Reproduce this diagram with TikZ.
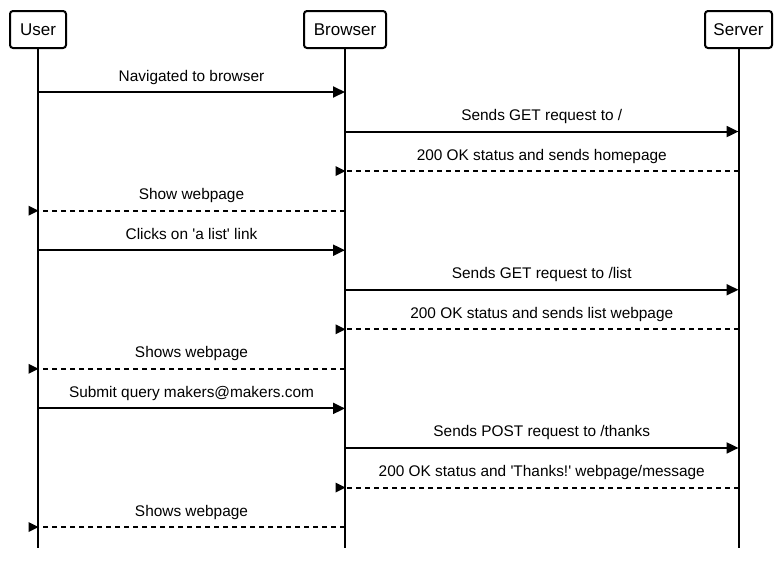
\documentclass[tikz,border=0pt]{standalone}
\usepackage{fontspec}
\setmainfont{Liberation Sans}
\usetikzlibrary{arrows.meta,shapes.geometric}

\tikzset{
    actor/.style={draw, rounded corners=3pt, line width=2pt, minimum height=37pt, inner sep=0pt, font=\fontsize{17}{20}\selectfont},
    lifeline/.style={line width=2pt},
    call/.style={line width=2pt, -{Triangle[length=12pt, width=11pt]}},
    reply/.style={line width=2pt, dash pattern=on 5pt off 4pt},
    replytip/.style={isosceles triangle, isosceles triangle stretches, fill, inner sep=0pt, outer sep=0pt, minimum width=10pt, minimum height=10pt, anchor=apex, pos=1, xshift=0.5pt},
    msg/.style={midway, above=6.5pt, inner sep=0pt, text depth=3.5pt, font=\fontsize{15.4}{18}\selectfont}
}

\begin{document}
\begin{tikzpicture}[x=1pt, y=-1pt]
    \useasboundingbox (0,0) rectangle (784,560);

    % participants
    \node[actor, minimum width=56pt] (user) at (38,29.5) {User};
    \node[actor, minimum width=82pt] (browser) at (345,29.5) {Browser};
    \node[actor, minimum width=67pt] (server) at (738.5,29.5) {Server};

    \coordinate (user-end) at (38,548);
    \coordinate (browser-end) at (345,548);
    \coordinate (server-end) at (738.5,548);

    \draw[lifeline] (user) -- (user-end);
    \draw[lifeline] (browser) -- (browser-end);
    \draw[lifeline] (server) -- (server-end);

    % message rows
    \foreach \i in {1,...,12} {
        \pgfmathsetmacro\rowy{92+39.55*(\i-1)}
        \coordinate (u\i) at (38,\rowy);
        \coordinate (b\i) at (345,\rowy);
        \coordinate (s\i) at (738.5,\rowy);
    }

    \draw[call] (u1) -- node[msg] {Navigated to browser} (b1);
    \draw[call] (b2) -- node[msg] {Sends GET request to /} (s2);
    \draw[reply] (s3) -- node[msg] {200 OK status and sends homepage} (b3) node[replytip] {};
    \draw[reply] (b4) -- node[msg] {Show webpage} (u4) node[replytip] {};

    \draw[call] (u5) -- node[msg] {Clicks on \textquotesingle a list\textquotesingle\ link} (b5);
    \draw[call] (b6) -- node[msg] {Sends GET request to /list} (s6);
    \draw[reply] (s7) -- node[msg] {200 OK status and sends list webpage} (b7) node[replytip] {};
    \draw[reply] (b8) -- node[msg] {Shows webpage} (u8) node[replytip] {};

    \draw[call] (u9) -- node[msg] {Submit query makers@makers.com} (b9);
    \draw[call] (b10) -- node[msg] {Sends POST request to /thanks} (s10);
    \draw[reply] (s11) -- node[msg] {200 OK status and \textquotesingle Thanks!\textquotesingle\ webpage/message} (b11) node[replytip] {};
    \draw[reply] (b12) -- node[msg] {Shows webpage} (u12) node[replytip] {};

\end{tikzpicture}
\end{document}
